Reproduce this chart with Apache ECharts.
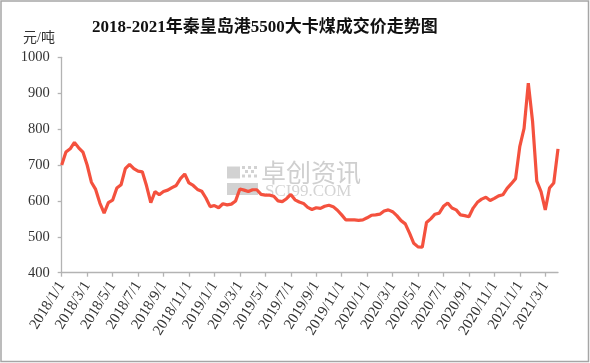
<!DOCTYPE html>
<html>
<head>
<meta charset="utf-8">
<script src="https://cdn.jsdelivr.net/npm/echarts@6/dist/echarts.min.js"></script>
<style>
html,body{margin:0;padding:0;background:#fff;}
#c{width:590px;height:363px;}
</style>
</head>
<body>
<div id="c"></div>
<script>
// Dates: 1st, 11th, 21st of each month, 2018/1/1 .. 2021/4/1
const startYear = 2018, monthsCount = 39;
const categories = [];
for (let m = 0; m < monthsCount; m++) {
  const y = startYear + Math.floor(m / 12), mo = (m % 12) + 1;
  [1, 11, 21].forEach(d => categories.push(y + '/' + mo + '/' + d));
}
categories.push('2021/4/1');

// 秦皇岛港5500大卡煤成交价 (元/吨)
const prices = [
  700, 736, 745, 763, 748, 736, 700, 652, 632, 594,
  566, 595, 602, 636, 645, 690, 702, 690, 683, 681,
  642, 595, 626, 617, 626, 630, 637, 643, 662, 675,
  650, 643, 632, 627, 608, 584, 587, 581, 592, 589,
  591, 600, 633, 630, 626, 631, 631, 618, 616, 616,
  613, 600, 598, 606, 618, 603, 597, 593, 582, 576,
  581, 579, 585, 588, 584, 574, 561, 547, 547, 547,
  546, 547, 553, 560, 561, 563, 572, 575, 570, 559,
  545, 536, 510, 482, 472, 471, 540, 550, 563, 566,
  585, 594, 580, 575, 561, 559, 556, 580, 596, 605,
  610, 601, 607, 614, 617, 635, 648, 662, 752, 802,
  928, 822, 655, 626, 575, 636, 650, 745
];

const yTicks = { min: 400, max: 1000, interval: 100 };
const titleText = '2018-2021年秦皇岛港5500大卡煤成交价走势图';
const unitText = '元/吨';

const serif = '"Liberation Serif","DejaVu Serif","Noto Sans CJK SC",serif';
const axisGray = '#b3b3b3';

const chart = echarts.init(document.getElementById('c'), null, {renderer: 'canvas'});
chart.setOption({
  animation: false,
  backgroundColor: '#fff',
  title: {
    text: titleText,
    left: 87, top: 14,
    textStyle: { fontFamily: serif, fontSize: 17, fontWeight: 'bold', color: '#111' }
  },
  grid: { left: 61.7, right: 32, top: 57.3, bottom: 90.3 },
  xAxis: {
    type: 'category',
    data: categories,
    boundaryGap: false,
    axisLine: { lineStyle: { color: axisGray, width: 1.3 } },
    axisTick: { interval: 5, length: 4, lineStyle: { color: axisGray, width: 1.3 } },
    axisLabel: {
      interval: 5, rotate: 58, margin: 10,
      fontFamily: serif, fontSize: 15, color: '#333'
    },
    splitLine: { show: false }
  },
  yAxis: {
    type: 'value',
    min: yTicks.min, max: yTicks.max, interval: yTicks.interval,
    axisLine: { show: true, lineStyle: { color: axisGray, width: 1.3 } },
    axisTick: { show: true, length: 4, lineStyle: { color: axisGray, width: 1.3 } },
    axisLabel: { margin: 12, fontFamily: serif, fontSize: 14.5, color: '#333',
      formatter: v => String(v) },
    splitLine: { show: false }
  },
  graphic: [
    { type: 'rect', z: 100, silent: true,
      shape: { x: 1, y: 1, width: 587.5, height: 360.5 },
      style: { fill: 'none', stroke: '#a6a6a6', lineWidth: 1.5 } },
    { type: 'text', left: 23, top: 31, z: 1,
      style: { text: unitText, font: '14px ' + serif, fill: '#333' } },
    // watermark logo
    { type: 'rect', z: 0, shape: { x: 227, y: 166.5, width: 13, height: 12 }, style: { fill: '#d2d2d2' } },
    { type: 'rect', z: 0, shape: { x: 227, y: 183, width: 31, height: 12 }, style: { fill: '#d2d2d2' } },
    { type: 'rect', z: 0, shape: { x: 242, y: 166, width: 3, height: 3 }, style: { fill: '#d2d2d2' } },
    { type: 'rect', z: 0, shape: { x: 248, y: 166, width: 3, height: 3 }, style: { fill: '#d2d2d2' } },
    { type: 'rect', z: 0, shape: { x: 254, y: 166, width: 3, height: 3 }, style: { fill: '#d2d2d2' } },
    { type: 'rect', z: 0, shape: { x: 245, y: 170, width: 3, height: 3 }, style: { fill: '#d2d2d2' } },
    { type: 'rect', z: 0, shape: { x: 251, y: 170, width: 3, height: 3 }, style: { fill: '#d2d2d2' } },
    { type: 'rect', z: 0, shape: { x: 242, y: 174.5, width: 3, height: 3 }, style: { fill: '#d2d2d2' } },
    { type: 'rect', z: 0, shape: { x: 248, y: 174.5, width: 3, height: 3 }, style: { fill: '#d2d2d2' } },
    { type: 'rect', z: 0, shape: { x: 254, y: 174.5, width: 3, height: 3 }, style: { fill: '#d2d2d2' } },
    { type: 'text', z: 0, left: 261, top: 160,
      style: { text: '卓创资讯', font: '25px "Noto Sans CJK SC",sans-serif', fill: '#cfcfcf' } },
    { type: 'text', z: 0, left: 265, top: 183,
      style: { text: 'SCI99.COM', font: '17px ' + serif, fill: '#d4d4d4' } }
  ],
  series: [{
    type: 'line',
    data: prices,
    z: 5,
    symbol: 'none',
    smooth: false,
    lineStyle: { color: '#F4513E', width: 3.2 },
    itemStyle: { color: '#F4513E' }
  }]
});
</script>
</body>
</html>
